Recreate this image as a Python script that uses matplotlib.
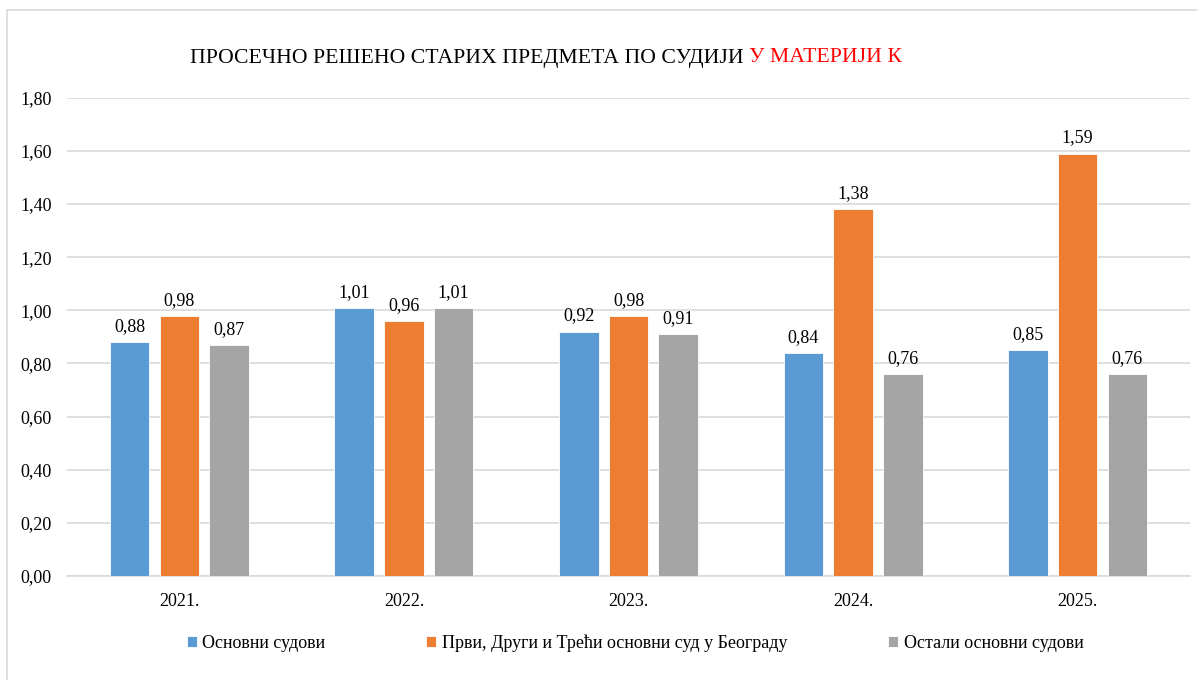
import matplotlib
matplotlib.use("Agg")
import matplotlib.pyplot as plt
import numpy as np
from matplotlib.patches import Rectangle

years = ["2021.", "2022.", "2023.", "2024.", "2025."]
series_names = ["Основни судови", "Први, Други и Трећи основни суд у Београду", "Остали основни судови"]
osnovni = [0.88, 1.01, 0.92, 0.84, 0.85]
beograd = [0.98, 0.96, 0.98, 1.38, 1.59]
ostali = [0.87, 1.01, 0.91, 0.76, 0.76]
colors = ["#5B9BD5", "#ED7D31", "#A5A5A5"]
yticks = [0.0, 0.2, 0.4, 0.6, 0.8, 1.0, 1.2, 1.4, 1.6, 1.8]

plt.rcParams['font.family'] = ['Liberation Serif', 'DejaVu Serif']

W, H = 1197, 680
fig = plt.figure(figsize=(W/100, H/100), dpi=100)
fig.patches.append(Rectangle((7/W, -0.1), 1.2, (1 - 10/H) + 0.1, transform=fig.transFigure,
                             fill=False, edgecolor="#D9D9D9", linewidth=1.2))

ax = fig.add_axes([67/W, 1 - 576/H, (1190 - 67)/W, (576 - 97.7)/H])
x = np.arange(len(years))
bw = 0.176
pitch = 0.221
for i, (vals, name) in enumerate(zip([osnovni, beograd, ostali], series_names)):
    bars = ax.bar(x + (i - 1) * pitch, vals, bw, color=colors[i], label=name,
                  edgecolor="white", linewidth=0.6, zorder=3)
    ax.bar_label(bars, labels=[f"{v:.2f}".replace(".", ",") for v in vals],
                 padding=5, fontsize=13, color="#000000")

ax.set_xlim(-0.5, len(years) - 0.5)
ax.set_ylim(0, 1.8)
ax.set_yticks(yticks)
ax.set_yticklabels([f"{v:.2f}".replace(".", ",") for v in yticks], fontsize=13)
ax.set_xticks(x)
ax.set_xticklabels(years, fontsize=13)
ax.tick_params(axis="both", length=0)
ax.tick_params(axis="y", pad=11)
ax.tick_params(axis="x", pad=12)
ax.grid(axis="y", color="#D9D9D9", linewidth=1.2, zorder=0)
for s in ["top", "right", "left"]:
    ax.spines[s].set_visible(False)
ax.spines["bottom"].set_color("#D9D9D9")
ax.spines["bottom"].set_linewidth(1.2)

t1 = fig.text(190/W, 1 - 58/H, "ПРОСЕЧНО РЕШЕНО СТАРИХ ПРЕДМЕТА ПО СУДИЈИ ", ha="left", va="center",
              fontsize=15.7, color="black")
fig.canvas.draw()
ax.annotate("У МАТЕРИЈИ К", xy=(1, 0), xycoords=t1, ha="left", va="bottom",
            fontsize=15.7, color="#FF0000", annotation_clip=False)

leg = fig.legend(loc="center", bbox_to_anchor=(635/W, 1 - 643/H), ncol=3, frameon=False,
                 fontsize=13, handlelength=0.55, handleheight=0.55, handletextpad=0.3,
                 columnspacing=5.6)

fig.savefig("out.png", dpi=100)
